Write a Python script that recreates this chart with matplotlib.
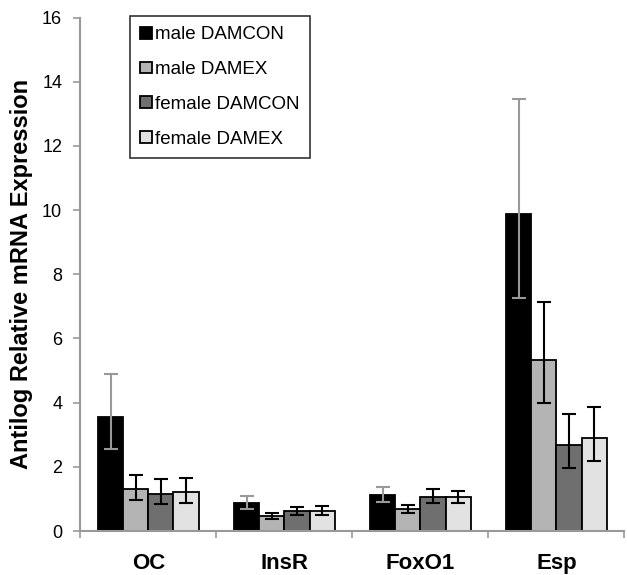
import numpy as np
import matplotlib
matplotlib.use('Agg')
from matplotlib import pyplot as plt

plt.rcParams['font.family'] = ['Liberation Sans', 'DejaVu Sans']

genes = ['OC', 'InsR', 'FoxO1', 'Esp']
groups = ['male DAMCON', 'male DAMEX', 'female DAMCON', 'female DAMEX']
colors = ['#000000', '#b4b4b4', '#6f6f6f', '#e2e2e2']
err_colors = ['#999999', '#000000', '#000000', '#000000']

# bar heights per group (rows) for each gene (cols)
means = [
    [3.56, 0.88, 1.12, 9.89],
    [1.31, 0.47, 0.69, 5.33],
    [1.15, 0.62, 1.07, 2.67],
    [1.22, 0.63, 1.05, 2.90],
]
upper = [
    [4.90, 1.08, 1.36, 13.47],
    [1.75, 0.57, 0.80, 7.13],
    [1.61, 0.74, 1.31, 3.65],
    [1.65, 0.79, 1.26, 3.87],
]
lower = [
    [2.56, 0.70, 0.90, 7.26],
    [0.97, 0.36, 0.56, 3.99],
    [0.83, 0.49, 0.88, 1.97],
    [0.88, 0.51, 0.86, 2.19],
]

fig = plt.figure(figsize=(6.27, 5.75), dpi=100)
ax = fig.add_axes([0.128, 0.0765, 0.868, 0.893])

x = np.arange(len(genes))
w = 0.185
for i in range(len(groups)):
    m = np.array(means[i])
    up = np.array(upper[i]) - m
    lo = m - np.array(lower[i])
    pos = x + (i - 1.5) * w
    ax.bar(pos, m, w, color=colors[i], edgecolor='black', linewidth=1.3,
           label=groups[i], zorder=2)
    ax.errorbar(pos, m, yerr=[lo, up], fmt='none', ecolor=err_colors[i],
                elinewidth=1.5, capsize=4.8, capthick=1.5, zorder=3)

ax.set_xlim(-0.5, len(genes) - 0.5)
ax.set_ylim(0, 16)
ax.set_yticks(np.arange(0, 17, 2))
ax.set_xticks(np.arange(-0.5, len(genes), 1))
ax.set_xticklabels([])
ax.set_xticks(x, minor=True)
ax.set_xticklabels(genes, minor=True, fontsize=16, fontweight='bold')
ax.tick_params(axis='x', which='minor', length=0, pad=16)
ax.tick_params(axis='x', which='major', length=5, color='#999999', width=1.2)
ax.tick_params(axis='y', length=5, color='#999999', width=1.2, labelsize=13, pad=8)
for s in ['top', 'right']:
    ax.spines[s].set_visible(False)
for s in ['left', 'bottom']:
    ax.spines[s].set_color('#999999')
    ax.spines[s].set_linewidth(1.5)
ax.set_ylabel('Antilog Relative mRNA Expression', fontsize=17, fontweight='bold')
ax.yaxis.set_label_coords(-0.0864, 0.5)

leg = ax.legend(loc='upper left', bbox_to_anchor=(130 / 627, 1 - 16 / 575), bbox_transform=fig.transFigure,
                fontsize=13.5, frameon=True, fancybox=False, edgecolor='black',
                handlelength=0.6, handleheight=0.6, handletextpad=0.2,
                labelspacing=0.95, borderpad=0.55, borderaxespad=0)
leg.get_frame().set_linewidth(1.2)

fig.savefig('out.png', dpi=100)
